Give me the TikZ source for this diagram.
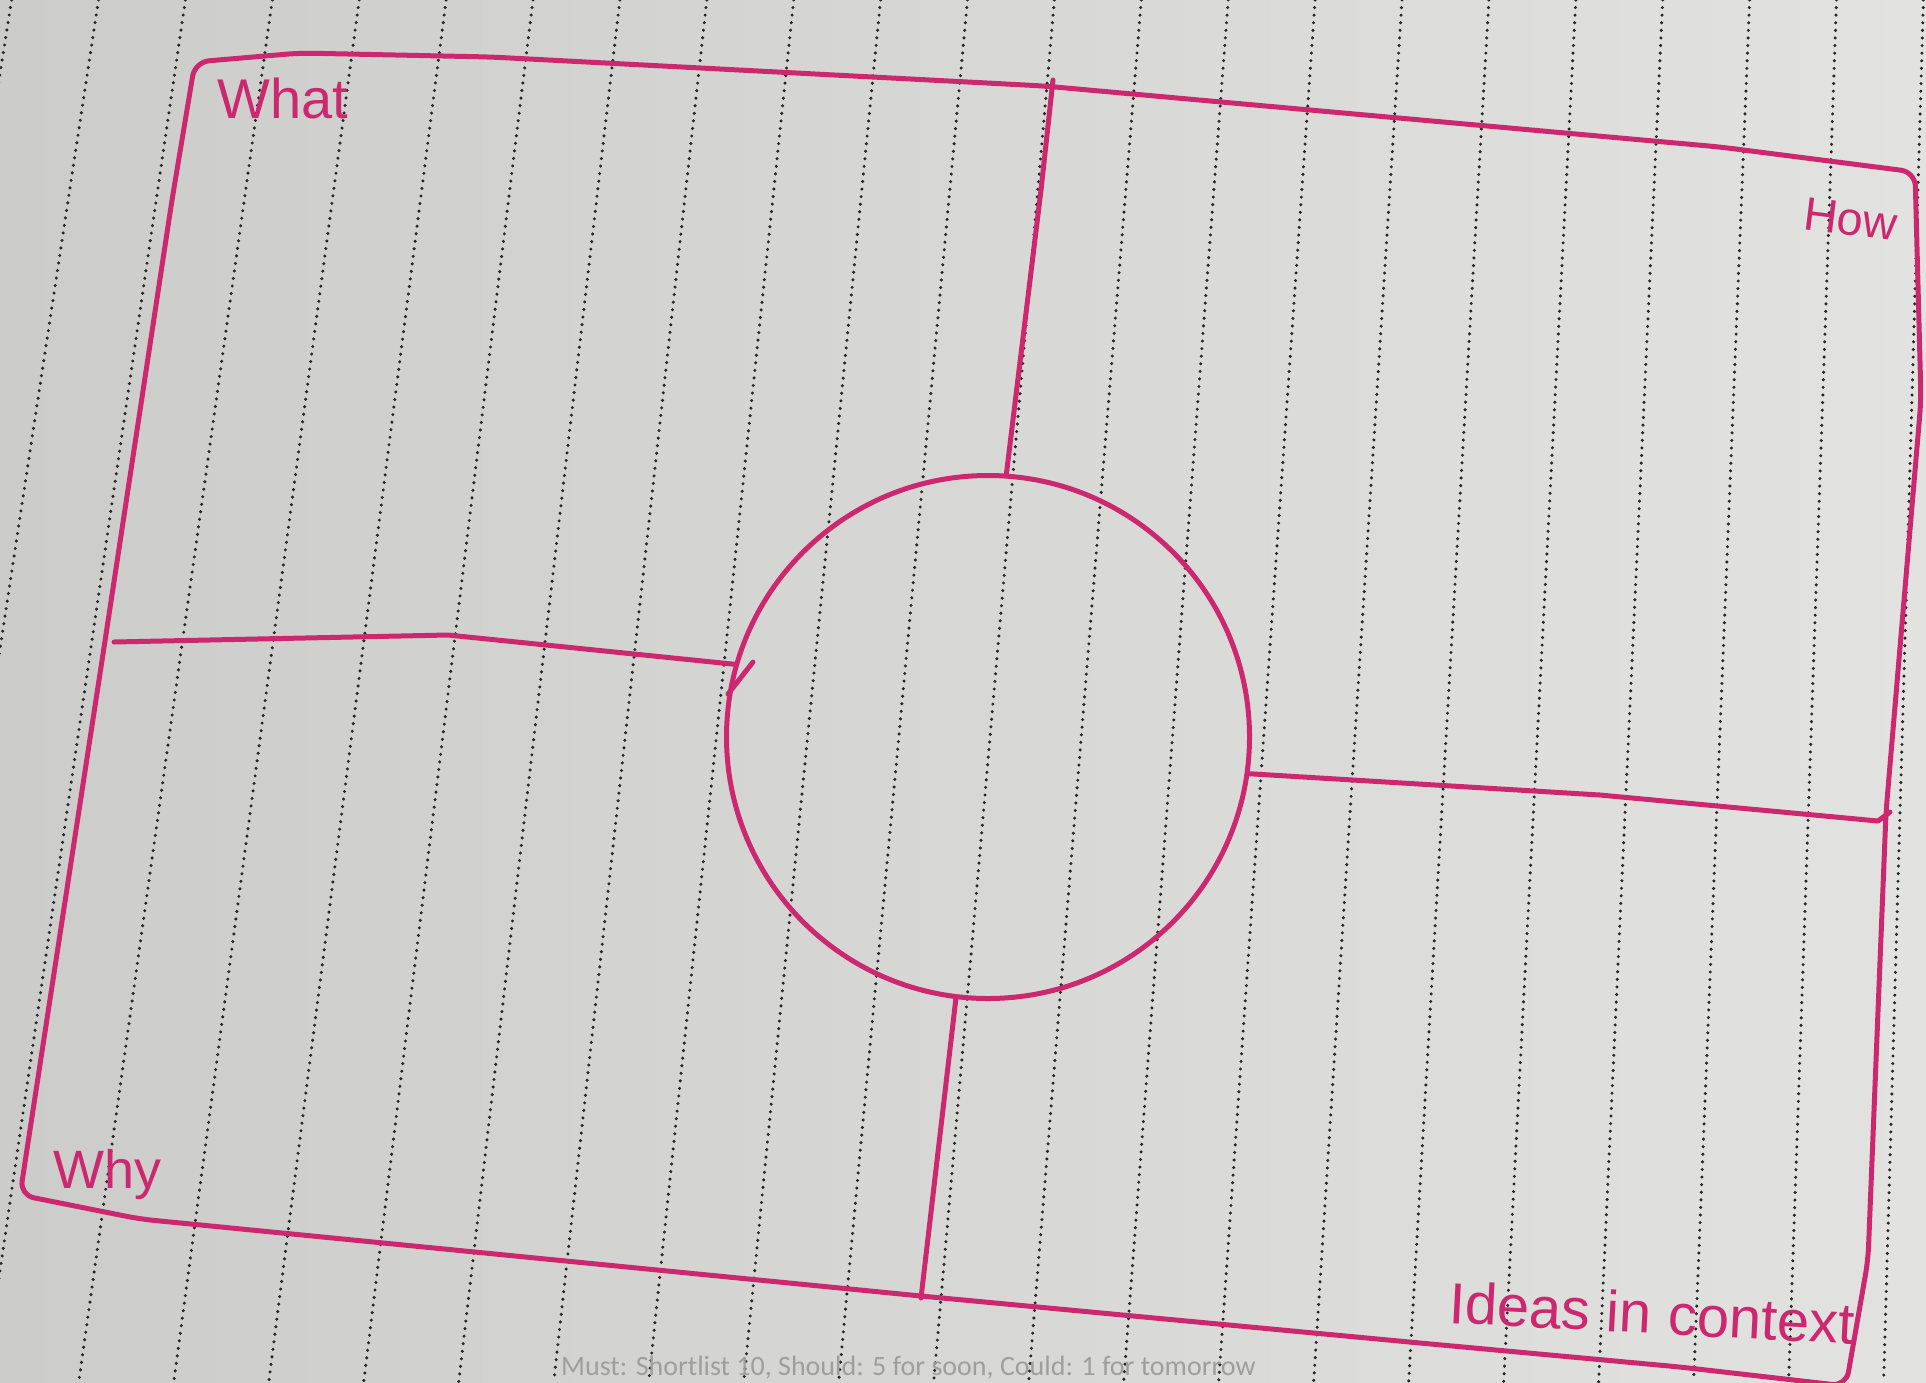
\documentclass[tikz,border=0pt]{standalone}
\usepackage{fontspec}
\setmainfont{Liberation Sans}
\newfontfamily\notefont{Carlito}
\definecolor{inkpink}{RGB}{204,40,112}
\definecolor{paperleft}{RGB}{204,205,203}
\definecolor{paperright}{RGB}{226,227,225}
\begin{document}
\begin{tikzpicture}[x=1pt,y=-1pt,
  ink/.style={draw=inkpink,line width=5pt,line cap=round,line join=round},
  paperline/.style={draw=black!85,line width=3.4pt,line cap=round,dash pattern=on 0pt off 7.6pt},
  handtext/.style={text=inkpink,inner sep=0pt,anchor=base west,font=\fontsize{#1}{#1}\selectfont},
  notetext/.style={text=black!38,inner sep=0pt,anchor=base west,font=\notefont\fontsize{28}{30}\selectfont}]
\useasboundingbox (0,0) rectangle (1926,1382);
\fill[left color=paperleft,right color=paperright] (0,0) rectangle (1926,1382);
% ruled paper
\foreach \j in {-11,...,11} {
   \pgfmathsetmacro\xtop{967.5+86.9*\j}
   \pgfmathsetmacro\xbot{2351+(\xtop-2351)*1.09311}
   \draw[paperline] (\xtop,0) -- (\xbot,1382);
}
% frame
\draw[ink,rounded corners=14pt] (195,62) -- (300,53) -- (491,57) -- (1044,86) -- (1720,147)
   -- (1915,172) -- (1921,400) -- (1886,812) -- (1868,1260) -- (1846,1386) -- (1680,1367)
   -- (1420,1343) -- (921,1296) -- (140,1219) -- (20,1195) -- (105,641) -- (172,200) -- cycle;
\node[circle,ink,minimum size=523pt,inner sep=0pt] (core) at (988,737) {};
\coordinate (topend) at (1053,80);
\coordinate (topbend) at (1041,190);
\coordinate (leftend) at (114,642);
\coordinate (leftbend) at (448,635);
\coordinate (rightbend) at (1600,795);
\coordinate (rightend) at (1890,812);
\coordinate (bottomend) at (921,1298);
\draw[ink] (topend) -- (topbend) -- (core.86);
\draw[ink] (leftend) -- (leftbend) -- (core.164);
\draw[ink] (753,662) -- (728,694);
\draw[ink] (core.352) -- (rightbend) -- (1878,821) -- (rightend);
\draw[ink] (core.263) -- (bottomend);
\node[handtext=56] (what) at (217,118) {What};
\node[handtext=47,rotate=-7] (how) at (1802,229) {How};
\node[handtext=54] (why) at (53,1188) {Why};
\node[handtext=58,rotate=-3] (ideas) at (1448,1323) {Ideas in context};
\node[notetext] (note) at (561,1375) {Must: Shortlist 10, Should: 5 for soon, Could: 1 for tomorrow};
\end{tikzpicture}
\end{document}
